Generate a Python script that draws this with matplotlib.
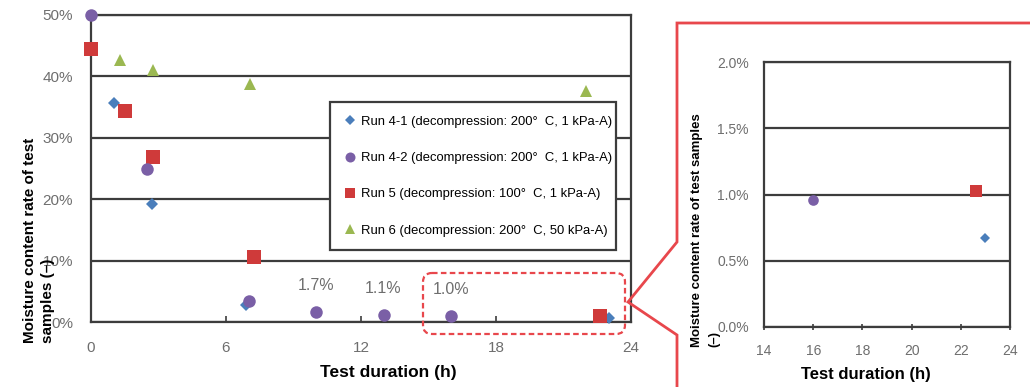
import matplotlib
matplotlib.use("Agg")
import matplotlib.pyplot as plt
import matplotlib.transforms as mtransforms
from matplotlib.lines import Line2D
from matplotlib.patches import FancyBboxPatch
from matplotlib.ticker import FuncFormatter

plt.rcParams['font.family'] = ['Liberation Sans', 'DejaVu Sans']

# Moisture content rate (%) against test duration (h)
run41_h = [1.0, 2.7, 6.9, 23.0]
run41_mc = [35.6, 19.2, 2.8, 0.67]
run42_h = [0.0, 2.5, 7.0, 10.0, 13.0, 16.0]
run42_mc = [50.0, 24.9, 3.5, 1.7, 1.1, 0.96]
run5_h = [0.0, 1.5, 2.75, 7.25, 22.6]
run5_mc = [44.5, 34.3, 26.9, 10.6, 1.03]
run6_h = [0.0, 1.3, 2.75, 7.05, 22.0]
run6_mc = [44.5, 42.6, 41.1, 38.8, 37.7]

series_labels = [
    "Run 4-1 (decompression: 200°  C, 1 kPa-A)",
    "Run 4-2 (decompression: 200°  C, 1 kPa-A)",
    "Run 5 (decompression: 100°  C, 1 kPa-A)",
    "Run 6 (decompression: 200°  C, 50 kPa-A)",
]
main_xticks = [0, 6, 12, 18, 24]
main_yticks = [0, 10, 20, 30, 40, 50]
zoom_xticks = [14, 16, 18, 20, 22, 24]
zoom_yticks = [0.0, 0.5, 1.0, 1.5, 2.0]
labelled_idx = [3, 4, 5]  # Run 4-2 points carrying a value label

C_BLUE = '#4a7ebb'
C_PURPLE = '#7a5fa6'
C_RED = '#cf3a3a'
C_GREEN = '#9bb851'
C_GRID = '#3c3c3c'
C_TICK = '#6e6e6e'
C_CALLOUT = '#e8474c'

W, H = 1030, 387
fig = plt.figure(figsize=(W / 100, H / 100), dpi=100)
fig.patch.set_facecolor('white')

# pixel-based helper transform (origin top-left)
px = mtransforms.Affine2D().scale(1 / W, -1 / H).translate(0, 1) + fig.transFigure


def fx(x):
    return x / W


def fy(y):
    return 1 - y / H


series = [
    (run6_h, run6_mc, '^', C_GREEN, 8.5, 2),
    (run41_h, run41_mc, 'D', C_BLUE, 6.5, 3),
    (run5_h, run5_mc, 's', C_RED, 9.5, 4),
    (run42_h, run42_mc, 'o', C_PURPLE, 9, 5),
]


def style_axes(ax):
    for s in ax.spines.values():
        s.set_color(C_GRID)
        s.set_linewidth(1.6)
    ax.yaxis.grid(True, color=C_GRID, linewidth=1.6)
    ax.set_axisbelow(True)


# ---------------- main panel ----------------
ax = fig.add_axes([fx(91), fy(322), fx(631) - fx(91), fy(15) - fy(322)])
style_axes(ax)
ax.set_xlim(0, 24)
ax.set_ylim(0, 50)
ax.set_xticks(main_xticks)
ax.set_yticks(main_yticks)
ax.yaxis.set_major_formatter(FuncFormatter(lambda v, p: f"{v:.0f}%"))
ax.tick_params(axis='x', direction='in', length=4, width=1.2, color=C_GRID,
               pad=14, labelsize=11, labelcolor=C_TICK)
ax.tick_params(axis='y', length=0, pad=13, labelsize=11, labelcolor=C_TICK)

handles = {}
for (h, mc, m, c, ms, z) in series:
    ln, = ax.plot(h, mc, linestyle='none', marker=m, color=c, markersize=ms,
                  markeredgewidth=0, clip_on=False, zorder=z)
    handles[m] = ln

for i in labelled_idx:
    ax.annotate(f"{run42_mc[i]:.1f}%", (run42_h[i], run42_mc[i]),
                xytext=(0, 19), textcoords='offset points', ha='center',
                va='center', fontsize=11.5, color=C_TICK)

leg_x0 = (330 - 91) / 540
leg_w = (616 - 330) / 540
leg = ax.legend([handles['D'], handles['o'], handles['s'], handles['^']],
                series_labels, loc='upper left', mode='expand',
                bbox_to_anchor=(leg_x0, 0.7166, leg_w, 0.0), fontsize=9.4,
                labelspacing=1.85, handletextpad=0.3, handlelength=1.0,
                borderpad=1.05, fancybox=False, framealpha=1,
                edgecolor=C_GRID, borderaxespad=0, markerscale=0.8)
leg.get_frame().set_linewidth(1.6)
leg.set_zorder(1)

fig.text(fx(39), fy(343), "Moisture content rate of test\nsamples (–)",
         rotation=90, ha='center', va='bottom', multialignment='left',
         fontsize=11, fontweight='bold', linespacing=1.45)
fig.text(fx(388), fy(372), "Test duration (h)", ha='center', va='center',
         fontsize=12.5, fontweight='bold')

# ---------------- zoomed panel ----------------
axz = fig.add_axes([fx(764), fy(327), fx(1010) - fx(764), fy(62) - fy(327)])
style_axes(axz)
axz.set_xlim(14, 24)
axz.set_ylim(0, 2.0)
axz.set_xticks(zoom_xticks)
axz.set_yticks(zoom_yticks)
axz.yaxis.set_major_formatter(FuncFormatter(lambda v, p: f"{v:.1f}%"))
axz.tick_params(axis='x', direction='inout', length=5, width=1.2,
                color=C_GRID, pad=10, labelsize=10, labelcolor=C_TICK)
axz.tick_params(axis='y', length=0, pad=11, labelsize=10, labelcolor=C_TICK)

for (h, mc, m, c, ms, z) in series:
    axz.plot(h, mc, linestyle='none', marker=m, color=c, markersize=ms * 0.85,
             markeredgewidth=0, zorder=z)

fig.text(fx(706), fy(347), "Moisture content rate of test samples\n(–)",
         rotation=90, ha='center', va='bottom', multialignment='left',
         fontsize=9.5, fontweight='bold', linespacing=1.6)
fig.text(fx(866), fy(375), "Test duration (h)", ha='center', va='center',
         fontsize=12, fontweight='bold')

# ---------------- callout frame and highlight box ----------------
callout = Line2D([1040, 677, 677, 628, 677, 677], [23, 23, 242, 302, 335, 395],
                 transform=px, color=C_CALLOUT, linewidth=2,
                 solid_joinstyle='miter')
fig.add_artist(callout)

box = FancyBboxPatch((423, 273), 202, 61, boxstyle="round,pad=0,rounding_size=9",
                     transform=px, facecolor='none', edgecolor=C_CALLOUT,
                     linewidth=1.6, linestyle=(0, (2.5, 1.5)), zorder=10)
fig.add_artist(box)

fig.savefig("out.png", dpi=100)
